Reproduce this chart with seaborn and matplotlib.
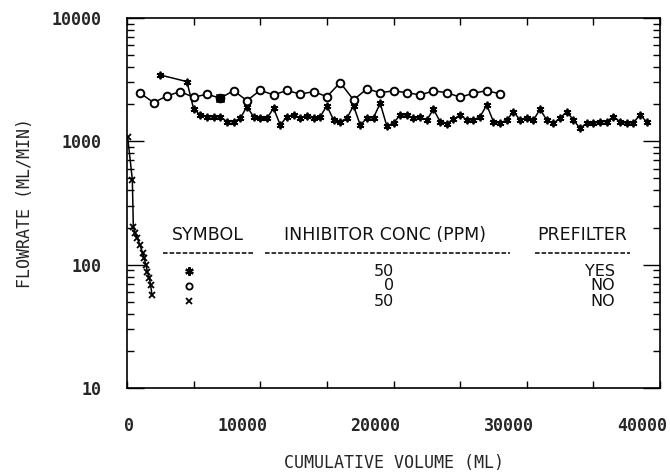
import matplotlib
matplotlib.use("Agg")
import matplotlib.pyplot as plt
import matplotlib.transforms as mtransforms
from matplotlib.ticker import FixedLocator, LogLocator, NullFormatter
import seaborn as sns

# ── data ──────────────────────────────────────────────────────────────────────
# 50 ppm inhibitor, with prefilter  (asterisk)
STAR_VOL = [2500, 4500,
            5000, 5500, 6000, 6500, 7000, 7500, 8000, 8500, 9000, 9500,
            10000, 10500, 11000, 11500, 12000, 12500, 13000, 13500, 14000, 14500,
            15000, 15500, 16000, 16500, 17000, 17500, 18000, 18500, 19000, 19500,
            20000, 20500, 21000, 21500, 22000, 22500, 23000, 23500, 24000, 24500,
            25000, 25500, 26000, 26500, 27000, 27500, 28000, 28500, 29000, 29500,
            30000, 30500, 31000, 31500, 32000, 32500, 33000, 33500, 34000, 34500,
            35000, 35500, 36000, 36500, 37000, 37500, 38000, 38500, 39000]
STAR_FLOW = [3450, 3050,
             1830, 1636, 1585, 1576, 1585, 1443, 1443, 1538, 1910, 1585,
             1538, 1538, 1854, 1357, 1585, 1636, 1555, 1615, 1538, 1585,
             1946, 1490, 1443, 1538, 1946, 1357, 1538, 1555, 2035, 1330,
             1409, 1636, 1636, 1545, 1570, 1490, 1820, 1443, 1383, 1510,
             1636, 1490, 1490, 1585, 1972, 1443, 1401, 1490, 1740, 1490,
             1538, 1490, 1820, 1490, 1401, 1538, 1740, 1490, 1276, 1401,
             1401, 1443, 1443, 1585, 1443, 1401, 1417, 1636, 1443]

# 0 ppm inhibitor, no prefilter  (circle)
CIRC_VOL = [1000, 2000, 3000, 4000, 5000, 6000, 7000, 8000, 9000, 10000,
            11000, 12000, 13000, 14000, 15000, 16000, 17000, 18000, 19000, 20000,
            21000, 22000, 23000, 24000, 25000, 26000, 27000, 28000]
CIRC_FLOW = [2455, 2060, 2335, 2530, 2279, 2410, 2238, 2577, 2138, 2596,
             2377, 2587, 2415, 2530, 2305, 2993, 2168, 2660, 2483, 2563,
             2483, 2377, 2563, 2483, 2279, 2455, 2577, 2425]
FILLED_VOL = [7000]
FILLED_FLOW = [2238]

# 50 ppm inhibitor, no prefilter  (cross)
CROSS_VOL = [50, 400, 475, 600, 775, 975, 1175, 1275, 1425, 1525, 1675, 1775, 1875]
CROSS_FLOW = [1080, 490, 203, 180, 164, 144, 124, 113, 99, 88, 78, 68, 57]

X_TICKS = [0, 10000, 20000, 30000, 40000]
X_MINOR = [5000, 15000, 25000, 35000]
Y_TICKS = [10, 100, 1000, 10000]

LEG_HEAD = ["SYMBOL", "INHIBITOR CONC (PPM)", "PREFILTER"]
LEG_CONC = ["50", "0", "50"]
LEG_PRE = ["YES", "NO", "NO"]

# ── style ─────────────────────────────────────────────────────────────────────
sns.set_style("ticks")
plt.rcParams["font.family"] = ["DejaVu Sans Mono", "DejaVu Sans"]

fig = plt.figure(figsize=(6.7, 4.76), dpi=100)
ax = fig.add_axes([127 / 670, 88 / 476, 533 / 670, 370 / 476])

# ── series ────────────────────────────────────────────────────────────────────
sns.lineplot(x=STAR_VOL, y=STAR_FLOW, ax=ax, color="black", lw=1.1, sort=False,
             marker=(6, 2, 0), markersize=5.5, markeredgewidth=1.3,
             markeredgecolor="black", zorder=3)
sns.lineplot(x=CROSS_VOL, y=CROSS_FLOW, ax=ax, color="black", lw=1.1, sort=False,
             marker="x", markersize=5, markeredgewidth=1.3,
             markeredgecolor="black", zorder=3)
sns.lineplot(x=CIRC_VOL, y=CIRC_FLOW, ax=ax, color="black", lw=1.1, sort=False,
             marker="o", markersize=5.5, markeredgewidth=1.4,
             markerfacecolor="white", markeredgecolor="black", zorder=4)
sns.scatterplot(x=FILLED_VOL, y=FILLED_FLOW, ax=ax, marker="s", s=28,
                color="black", edgecolor="black", zorder=5)

# ── axes ──────────────────────────────────────────────────────────────────────
ax.set_yscale("log")
ax.set_xlim(0, 40000)
ax.set_ylim(10, 10000)

ax.xaxis.set_major_locator(FixedLocator(X_TICKS))
ax.xaxis.set_minor_locator(FixedLocator(X_MINOR))
ax.set_xticklabels([str(v) for v in X_TICKS], fontsize=12, fontweight="bold", ha="right")

ax.yaxis.set_major_locator(FixedLocator(Y_TICKS))
ax.yaxis.set_minor_locator(LogLocator(base=10, subs=[2, 3, 4, 5, 6, 7, 8, 9]))
ax.yaxis.set_minor_formatter(NullFormatter())
ax.set_yticklabels([str(v) for v in Y_TICKS], fontsize=12, fontweight="bold")

ax.tick_params(which="both", direction="in", top=True, right=True, width=1, color="black")
ax.tick_params(axis="x", which="both", length=5, pad=21)
ax.tick_params(axis="y", which="major", length=12, pad=18)
ax.tick_params(axis="y", which="minor", length=5)
for sp in ax.spines.values():
    sp.set_linewidth(1.2)
    sp.set_color("black")

# x labels sit right-justified just past their tick, like the old plotter output
shift = mtransforms.ScaledTranslation(7 / 100, 0, fig.dpi_scale_trans)
for lab in ax.get_xticklabels():
    lab.set_transform(lab.get_transform() + shift)

ax.set_xlabel("CUMULATIVE VOLUME (ML)", fontsize=12)
ax.set_ylabel("FLOWRATE (ML/MIN)", fontsize=12)
ax.xaxis.set_label_coords(0.5, -0.2027)
ax.xaxis.label.set_va("center")
ax.yaxis.set_label_coords(-0.1914, 0.5)
ax.yaxis.label.set_va("center")

# ── in-plot symbol table ──────────────────────────────────────────────────────
head_font = dict(fontsize=12.5, family="DejaVu Sans", transform=ax.transAxes, color="#111111")
row_font = dict(fontsize=11.5, family="DejaVu Sans", transform=ax.transAxes, color="#111111")
head_x = [0.152, 0.4845, 0.8545]
dash_span = [(0.0675, 0.236), (0.259, 0.7186), (0.7655, 0.9437)]
for hx, txt in zip(head_x, LEG_HEAD):
    ax.text(hx, 0.4135, txt, ha="center", va="center", **head_font)
for x0, x1 in dash_span:
    ax.plot([x0, x1], [0.365, 0.365], transform=ax.transAxes, color="black",
            lw=1.1, ls=(0, (3, 1.3)), clip_on=False)

row_y = [0.316, 0.2757, 0.235]
sym_style = [dict(marker=(6, 2, 0), ms=6, mew=1.6),
             dict(marker="o", ms=4.5, mew=1.3, mfc="white"),
             dict(marker="x", ms=5, mew=1.3)]
for ry, st, conc, pre in zip(row_y, sym_style, LEG_CONC, LEG_PRE):
    ax.plot([0.1163], [ry], transform=ax.transAxes, color="black", ls="none",
            mec="black", **st)
    ax.text(0.5004, ry, conc, ha="right", va="center", **row_font)
    ax.text(0.9156, ry, pre, ha="right", va="center", **row_font)

fig.savefig("out.png", dpi=100)
